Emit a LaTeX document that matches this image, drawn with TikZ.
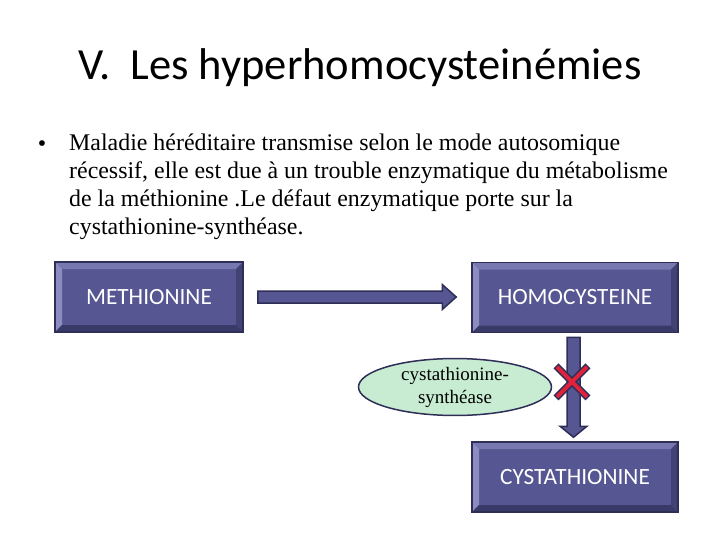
\documentclass[tikz,border=0pt]{standalone}
\usepackage{fontspec}
\setmainfont{Liberation Serif}
\newfontfamily\calfont{Carlito}
\usetikzlibrary{calc,shapes.geometric}

\definecolor{boxline}{RGB}{46,46,86}
\definecolor{boxface}{RGB}{86,86,146}
\definecolor{bevtop}{RGB}{120,120,176}
\definecolor{bevleft}{RGB}{140,140,192}
\definecolor{bevbot}{RGB}{58,58,104}
\definecolor{bevright}{RGB}{66,66,116}
\definecolor{enzfill}{RGB}{200,236,210}
\definecolor{blockred}{RGB}{226,34,58}

\def\bev{7pt}
\tikzset{
  bevelbox/.style={draw=boxline, line width=1.5pt, fill=boxface, text=white,
    font=\calfont\fontsize{23.3}{28}\selectfont, inner sep=0pt, minimum height=70pt,
    path picture={
      \fill[bevtop] let \p1=(path picture bounding box.south west), \p2=(path picture bounding box.north east) in
        (\x1,\y2) -- (\x2,\y2) -- (\x2-\bev,\y2-\bev) -- (\x1+\bev,\y2-\bev) -- cycle;
      \fill[bevleft] let \p1=(path picture bounding box.south west), \p2=(path picture bounding box.north east) in
        (\x1,\y2) -- (\x1,\y1) -- (\x1+\bev,\y1+\bev) -- (\x1+\bev,\y2-\bev) -- cycle;
      \fill[bevbot] let \p1=(path picture bounding box.south west), \p2=(path picture bounding box.north east) in
        (\x1,\y1) -- (\x2,\y1) -- (\x2-\bev,\y1+\bev) -- (\x1+\bev,\y1+\bev) -- cycle;
      \fill[bevright] let \p1=(path picture bounding box.south west), \p2=(path picture bounding box.north east) in
        (\x2,\y2) -- (\x2,\y1) -- (\x2-\bev,\y1+\bev) -- (\x2-\bev,\y2-\bev) -- cycle;
    }},
  fatarrow/.style={draw=boxline, line width=1.5pt, fill=boxface, line join=miter},
  enzyme/.style={ellipse, draw=boxline, line width=1.5pt, fill=enzfill, inner sep=0pt,
    minimum width=193pt, minimum height=51pt, align=center,
    font=\fontsize{19}{23}\selectfont}
}
% fat arrows between two points (shaft half width, head half width, head length)
\def\harrow(#1)(#2){\draw[fatarrow] let \p1=(#1), \p2=(#2) in
  (\x1,\y1+6pt) -- (\x2-14pt,\y1+6pt) -- (\x2-14pt,\y1+12.5pt) -- (\x2,\y1)
  -- (\x2-14pt,\y1-12.5pt) -- (\x2-14pt,\y1-6pt) -- (\x1,\y1-6pt) -- cycle;}
\def\varrow(#1)(#2){\draw[fatarrow] let \p1=(#1), \p2=(#2) in
  (\x1-6.5pt,\y1) -- (\x1-6.5pt,\y2+11pt) -- (\x1-13.5pt,\y2+11pt) -- (\x1,\y2)
  -- (\x1+13.5pt,\y2+11pt) -- (\x1+6.5pt,\y2+11pt) -- (\x1+6.5pt,\y1) -- cycle;}

\begin{document}
\begin{tikzpicture}[x=1pt, y=-1pt]
		%%%%% START %%%%%
		\useasboundingbox (0,0) rectangle (720,540);
		
		\node[font=\calfont\fontsize{44.5}{52}\selectfont] (title) at (360,68) {V.\ \ Les hyperhomocysteinémies};
		
		\node[font=\fontsize{24}{28}\selectfont] (dot) at (42,146) {•};
		\node[anchor=north west, inner sep=0pt, align=left, font=\fontsize{23.9}{28}\selectfont] (txt) at (69,133.5)
			{Maladie héréditaire transmise selon le mode autosomique\\
			 récessif, elle est due à un trouble enzymatique du métabolisme\\
			 de la méthionine .Le défaut enzymatique porte sur la\\
			 cystathionine-synthéase.};
		
		\node[bevelbox, minimum width=188pt] (met) at (149,297) {METHIONINE};
		\node[bevelbox, minimum width=206pt] (hom) at (575,297.5) {HOMOCYSTEINE};
		\node[bevelbox, minimum width=206pt] (cys) at (575,477) {CYSTATHIONINE};
		
		\harrow([xshift=14pt]met.east)([xshift=-15pt]hom.west)
		\varrow([xshift=-1.5pt,yshift=-4pt]hom.south)([xshift=-1.5pt,yshift=4pt]cys.north)
		
		\node[enzyme] (enz) at (455,387) {cystathionine-\\synthéase};
		
		\coordinate (block) at ($(hom.south)!0.45!(cys.north)+(-3pt,0)$);
		\draw[boxline, line width=7pt] ($(block)+(-16pt,16pt)$) -- ($(block)+(16pt,-16pt)$)
			($(block)+(-16pt,-16pt)$) -- ($(block)+(16pt,16pt)$);
		\draw[blockred, line width=4pt] ($(block)+(-15pt,15pt)$) -- ($(block)+(15pt,-15pt)$)
			($(block)+(-15pt,-15pt)$) -- ($(block)+(15pt,15pt)$);
		
		%%%%% END %%%%%
	\end{tikzpicture}
\end{document}
